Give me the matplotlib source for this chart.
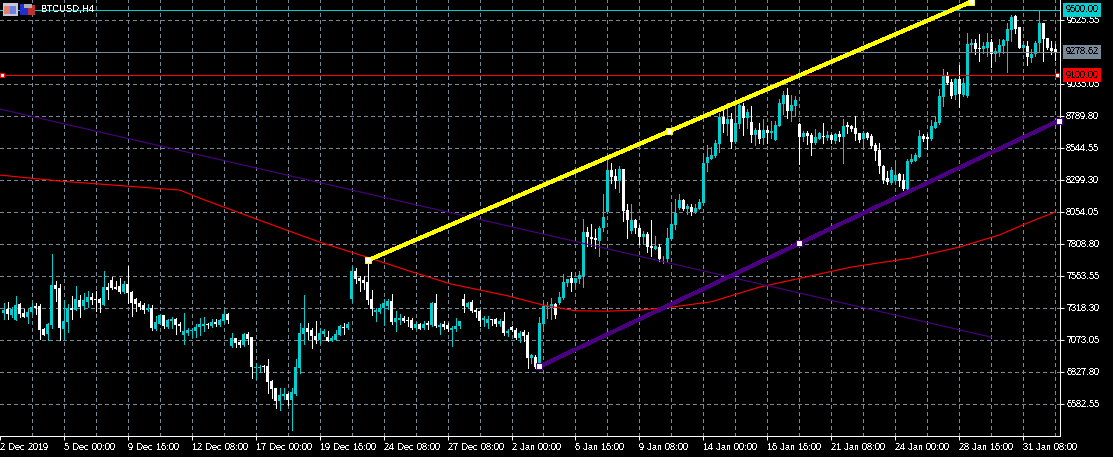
"""BTCUSD H4 candlestick chart in the style of a MetaTrader window."""

import numpy as np
import matplotlib
matplotlib.use("Agg")
import matplotlib.pyplot as plt
from matplotlib.patches import Rectangle
from matplotlib.transforms import Affine2D

# Candles, one value per 4h bar
opens = [
    7275, 7311, 7265, 7224, 7344, 7275, 7249, 7285, 7328, 7328,
    7155, 7114, 7183, 7489, 7466, 7157, 7208, 7313, 7298, 7380,
    7331, 7362, 7397, 7387, 7387, 7341, 7474, 7528, 7479, 7482,
    7438, 7497, 7438, 7387, 7351, 7336, 7298, 7313, 7157, 7196,
    7260, 7170, 7216, 7229, 7193, 7106, 7124, 7137, 7137, 7168,
    7175, 7196, 7178, 7206, 7183, 7213, 7270, 7022, 7083, 7053,
    7030, 7114, 7091, 6856, 6856, 6869, 6869, 6754, 6700, 6601,
    6639, 6654, 6608, 6654, 6856, 7116, 7162, 7147, 7104, 7068,
    7116, 7091, 7065, 7073, 7111, 7170, 7160, 7382, 7602, 7543,
    7528, 7515, 7382, 7285, 7288, 7313, 7331, 7367, 7208, 7221,
    7239, 7221, 7221, 7165, 7190, 7165, 7203, 7183, 7351, 7170,
    7190, 7183, 7147, 7157, 7178, 7382, 7326, 7362, 7298, 7290,
    7221, 7203, 7229, 7229, 7190, 7213, 7121, 7167, 7150, 7088,
    7132, 7106, 6932, 6943, 6871, 7193, 7326, 7318, 7344, 7351,
    7395, 7510, 7543, 7505, 7536, 7561, 7901, 7863, 7850, 7832,
    7926, 8052, 8371, 8328, 8289, 8379, 8064, 7906, 7990, 7932,
    7860, 7880, 7788, 7771, 7786, 7697, 7694, 7842, 7949, 8085,
    8141, 8072, 8092, 8054, 8077, 8118, 8424, 8460, 8481, 8570,
    8777, 8723, 8762, 8585, 8723, 8864, 8769, 8739, 8639, 8677,
    8616, 8677, 8654, 8601, 8711, 8877, 8946, 8823, 8864, 8723,
    8624, 8654, 8642, 8578, 8614, 8631, 8621, 8642, 8598, 8649,
    8624, 8716, 8711, 8693, 8654, 8608, 8654, 8631, 8562, 8524,
    8407, 8310, 8276, 8286, 8340, 8297, 8225, 8432, 8445, 8470,
    8631, 8626, 8608, 8698, 8731, 8935, 9099, 9048, 8946, 9068,
    8948, 8938, 9329, 9347, 9311, 9298, 9311, 9354, 9260, 9280,
    9324, 9365, 9446, 9554, 9467, 9311, 9324, 9234, 9260, 9344,
    9500, 9382, 9311, 9298,
]
highs = [
    7357, 7362, 7326, 7405, 7357, 7306, 7311, 7351, 7357, 7344,
    7165, 7203, 7727, 7523, 7497, 7377, 7344, 7408, 7482, 7413,
    7433, 7446, 7433, 7446, 7395, 7597, 7510, 7556, 7523, 7548,
    7523, 7635, 7446, 7395, 7369, 7357, 7344, 7336, 7254, 7267,
    7260, 7229, 7249, 7242, 7208, 7280, 7165, 7162, 7196, 7242,
    7249, 7198, 7229, 7234, 7229, 7298, 7275, 7127, 7086, 7070,
    7122, 7132, 7096, 6897, 6879, 6876, 6928, 6764, 6703, 6705,
    6705, 6667, 6705, 6923, 7203, 7418, 7198, 7162, 7219, 7162,
    7152, 7139, 7101, 7147, 7183, 7198, 7211, 7633, 7625, 7561,
    7561, 7650, 7451, 7313, 7344, 7387, 7382, 7420, 7293, 7267,
    7254, 7249, 7236, 7208, 7203, 7216, 7216, 7362, 7420, 7203,
    7216, 7203, 7178, 7242, 7216, 7420, 7362, 7377, 7318, 7300,
    7254, 7254, 7234, 7242, 7229, 7288, 7152, 7178, 7165, 7139,
    7144, 7132, 6960, 6953, 7247, 7344, 7362, 7395, 7356, 7438,
    7574, 7541, 7594, 7548, 7599, 7995, 7939, 7957, 7924, 7944,
    8187, 8450, 8425, 8379, 8404, 8379, 8110, 8110, 8001, 7949,
    7906, 7898, 7988, 7868, 7804, 7714, 7932, 8123, 8149, 8187,
    8149, 8110, 8110, 8110, 8154, 8493, 8562, 8552, 8601, 8813,
    8859, 8889, 8813, 8851, 8889, 8889, 8838, 8861, 8698, 8736,
    8762, 8711, 8749, 8749, 8915, 8979, 9004, 8946, 8941, 8736,
    8672, 8672, 8660, 8685, 8665, 8731, 8672, 8647, 8660, 8672,
    8762, 8741, 8716, 8787, 8660, 8672, 8665, 8647, 8583, 8583,
    8409, 8366, 8399, 8442, 8348, 8340, 8460, 8499, 8506, 8677,
    8652, 8647, 8757, 8787, 8992, 9145, 9124, 9068, 9081, 9178,
    9081, 9421, 9375, 9380, 9416, 9354, 9426, 9375, 9311, 9380,
    9375, 9503, 9559, 9561, 9467, 9362, 9362, 9298, 9362, 9600,
    9502, 9388, 9362, 9336,
]
lows = [
    7234, 7234, 7244, 7224, 7249, 7244, 7198, 7275, 7270, 7076,
    7106, 7073, 7165, 7369, 7070, 7076, 7132, 7234, 7298, 7244,
    7306, 7321, 7346, 7290, 7282, 7336, 7382, 7459, 7459, 7428,
    7433, 7357, 7254, 7293, 7306, 7275, 7290, 7145, 7147, 7190,
    7162, 7162, 7165, 7114, 7142, 7040, 7106, 7096, 7096, 7106,
    7139, 7162, 7173, 7178, 7178, 7203, 7198, 7019, 7017, 7019,
    7025, 7037, 6779, 6774, 6825, 6825, 6667, 6629, 6547, 6534,
    6616, 6573, 6378, 6649, 6815, 7037, 7076, 7009, 7045, 7050,
    7101, 7060, 7060, 7070, 7109, 7114, 7152, 7362, 7510, 7444,
    7464, 7344, 7259, 7216, 7280, 7185, 7310, 7190, 7139, 7190,
    7208, 7178, 7152, 7152, 7152, 7152, 7152, 7178, 7173, 7114,
    7152, 7139, 7024, 7139, 7165, 7285, 7318, 7288, 7247, 7178,
    7178, 7165, 7185, 7178, 7178, 7109, 7101, 7139, 7075, 7055,
    7063, 6858, 6896, 6858, 6858, 7139, 7242, 7229, 7242, 7344,
    7382, 7484, 7446, 7484, 7510, 7477, 7791, 7791, 7778, 7714,
    7906, 8047, 8276, 8238, 8205, 7983, 7852, 7893, 7893, 7809,
    7804, 7745, 7714, 7766, 7676, 7663, 7668, 7837, 7919, 8077,
    8067, 8039, 8026, 8046, 8072, 8115, 8366, 8455, 8476, 8511,
    8665, 8642, 8542, 8583, 8698, 8642, 8698, 8585, 8568, 8578,
    8570, 8583, 8621, 8601, 8708, 8800, 8769, 8749, 8787, 8417,
    8596, 8570, 8486, 8570, 8608, 8578, 8601, 8578, 8578, 8596,
    8424, 8654, 8672, 8601, 8588, 8532, 8608, 8539, 8450, 8353,
    8276, 8269, 8263, 8281, 8251, 8220, 8210, 8424, 8440, 8470,
    8593, 8532, 8603, 8695, 8729, 8864, 9030, 8928, 8915, 8859,
    8941, 8935, 9285, 9260, 9206, 9273, 9247, 9163, 9209, 9247,
    9273, 9124, 9362, 9426, 9306, 9285, 9176, 9201, 9247, 9278,
    9209, 9298, 9260, 9216,
]
closes = [
    7303, 7272, 7306, 7341, 7267, 7249, 7288, 7326, 7318, 7147,
    7111, 7190, 7489, 7464, 7165, 7213, 7313, 7300, 7382, 7326,
    7374, 7397, 7374, 7377, 7351, 7474, 7454, 7466, 7464, 7436,
    7497, 7428, 7351, 7346, 7323, 7298, 7313, 7160, 7211, 7260,
    7175, 7224, 7229, 7183, 7178, 7137, 7145, 7150, 7173, 7190,
    7190, 7183, 7206, 7193, 7224, 7267, 7226, 7083, 7045, 7032,
    7114, 7076, 6863, 6866, 6866, 6863, 6749, 6693, 6603, 6647,
    6654, 6608, 6670, 6861, 7122, 7160, 7134, 7101, 7068, 7122,
    7139, 7065, 7088, 7119, 7175, 7165, 7190, 7602, 7541, 7523,
    7505, 7374, 7305, 7298, 7318, 7351, 7367, 7206, 7236, 7239,
    7216, 7216, 7165, 7190, 7157, 7190, 7188, 7351, 7178, 7188,
    7173, 7152, 7165, 7180, 7213, 7328, 7356, 7293, 7282, 7216,
    7239, 7229, 7224, 7190, 7216, 7121, 7139, 7147, 7088, 7127,
    7098, 6932, 6953, 6866, 7198, 7331, 7331, 7344, 7259, 7403,
    7518, 7536, 7505, 7543, 7566, 7901, 7860, 7842, 7837, 7932,
    8016, 8371, 8317, 8289, 8379, 8059, 7990, 7988, 7926, 7860,
    7880, 7783, 7778, 7788, 7694, 7702, 7850, 7957, 8041, 8141,
    8072, 8098, 8054, 8085, 8128, 8430, 8470, 8486, 8578, 8777,
    8726, 8762, 8585, 8731, 8869, 8769, 8818, 8642, 8677, 8614,
    8677, 8654, 8670, 8718, 8884, 8946, 8826, 8869, 8907, 8624,
    8654, 8634, 8578, 8624, 8660, 8626, 8639, 8601, 8647, 8624,
    8708, 8703, 8685, 8647, 8601, 8660, 8621, 8557, 8519, 8404,
    8299, 8279, 8371, 8332, 8289, 8225, 8440, 8458, 8486, 8631,
    8614, 8614, 8711, 8739, 8938, 9099, 9043, 8941, 9068, 8953,
    9043, 9336, 9349, 9303, 9298, 9321, 9354, 9260, 9285, 9329,
    9370, 9451, 9548, 9457, 9311, 9329, 9242, 9260, 9344, 9500,
    9375, 9306, 9288, 9279,
]

# Moving average, read at a few bars
ma_bars = [-1, 14, 44, 49, 70, 79, 90, 102, 112, 126, 135, 143, 151, 159,
           167, 177, 189, 212, 227, 239, 249, 256, 263]
ma_prices = [8334, 8288, 8219, 8157, 7920, 7820, 7713, 7593, 7498, 7409, 7337,
             7294, 7291, 7299, 7322, 7363, 7475, 7629, 7698, 7782, 7874, 7966,
             8050]

# Trendlines: bar index and price of the anchors
yellow_bars = [91, 166.5, 242]
yellow_prices = [7680, 8671, 9662]
channel_bars = [134, 199, 264]
channel_prices = [6867, 7810, 8752]
thin_bars = [-1, 247]
thin_prices = [8840, 7092]

# Horizontal levels
levels = [9600.00, 9278.62, 9100.00]
level_colors = ["#00CED1", "#778899", "#FF0000"]
level_labels = ["9600.00", "9278.62", "9100.00"]

# Axis labels
price_ticks = [9525.55, 9035.05, 8789.80, 8544.55, 8299.30, 8054.05, 7808.80,
               7563.55, 7318.30, 7073.05, 6827.80, 6582.55]
price_grid = [9525.55, 9280.30, 9035.05, 8789.80, 8544.55, 8299.30, 8054.05,
              7808.80, 7563.55, 7318.30, 7073.05, 6827.80, 6582.55]
date_bars = [-1, 15, 31, 47, 63, 79, 95, 111, 127, 143, 159, 175, 191, 207,
             223, 239, 255]
date_labels = ["2 Dec 2019", "5 Dec 00:00", "9 Dec 16:00", "12 Dec 08:00",
               "17 Dec 00:00", "19 Dec 16:00", "24 Dec 08:00", "27 Dec 08:00",
               "2 Jan 00:00", "6 Jan 16:00", "9 Jan 08:00", "14 Jan 00:00",
               "16 Jan 16:00", "21 Jan 08:00", "24 Jan 00:00", "28 Jan 16:00",
               "31 Jan 08:00"]

WIDTH, HEIGHT = 1113, 457
RIGHT_EDGE, BOTTOM_EDGE = 1060, 436
PX = 0.72  # one pixel in points at dpi 100
FONT_SIZE = 6.5
TEAL = "#00CED1"
GRID = "#778899"
INDIGO = "#4B0082"

plt.rcParams["font.family"] = ["Liberation Sans", "DejaVu Sans"]
plt.rcParams["lines.antialiased"] = False
plt.rcParams["text.antialiased"] = False
plt.rcParams["text.hinting"] = "native"
plt.rcParams["text.hinting_factor"] = 1

fig = plt.figure(figsize=(WIDTH / 100, HEIGHT / 100), dpi=100, facecolor="black")
ax = fig.add_axes([0, 1 - BOTTOM_EDGE / HEIGHT, RIGHT_EDGE / WIDTH, BOTTOM_EDGE / HEIGHT])
ax.set_facecolor("black")

# one bar is 4 px, 32 px of height are 245.25 in price
per_px = 245.25 / 32
top = 9525.55 + 19.6 * per_px
ax.set_ylim(top - BOTTOM_EDGE * per_px, top)
ax.set_xlim(-3 / 4, (RIGHT_EDGE - 3) / 4)

for name in ("top", "left"):
    ax.spines[name].set_visible(False)
for name in ("right", "bottom"):
    ax.spines[name].set_color("white")
    ax.spines[name].set_linewidth(PX)

# Grid
dash = (0, (4, 3))
for p in price_grid:
    ax.axhline(p, color=GRID, lw=PX, ls=dash, zorder=1)
for b in np.arange(7, 264, 8):
    ax.axvline(b, color=GRID, lw=PX, ls=dash, zorder=1)

# Candles
o, h, l, c = map(np.array, (opens, highs, lows, closes))
bars = np.arange(len(o))
colors = np.where(c >= o, TEAL, "white")
ax.vlines(bars, l, h, colors=colors, lw=PX, antialiased=False, zorder=2)
ax.bar(bars, np.abs(c - o), bottom=np.minimum(o, c), width=0.75, color=colors,
       linewidth=0, antialiased=False, zorder=3)

# Indicator and trendlines
ax.plot(ma_bars, ma_prices, color="#FF0000", lw=1.15 * PX, antialiased=True, zorder=4)
ax.plot(thin_bars, thin_prices, color=INDIGO, lw=1.15 * PX, antialiased=True, zorder=4)
ax.plot(yellow_bars, yellow_prices, color="#FFFF00", lw=3 * PX, zorder=5)
ax.plot(channel_bars, channel_prices, color=INDIGO, lw=3 * PX, zorder=5)
ax.plot(yellow_bars, yellow_prices, ls="none", marker="s", ms=6.5 * PX, mfc="white",
        mec="#FFFF00", mew=PX, zorder=6, clip_on=False)
ax.plot(channel_bars, channel_prices, ls="none", marker="s", ms=6.5 * PX, mfc="white",
        mec=INDIGO, mew=PX, zorder=6, clip_on=False)

# Horizontal levels with their price boxes
yaxis_tf = ax.get_yaxis_transform()
for level, color, label in zip(levels, level_colors, level_labels):
    ax.axhline(level, color=color, lw=PX, zorder=4)
    ax.text((RIGHT_EDGE + 5.5) / RIGHT_EDGE, level, label, transform=yaxis_tf, color="black",
            fontsize=FONT_SIZE, ha="left", va="center", clip_on=False, zorder=8,
            bbox=dict(facecolor=color, edgecolor="none", pad=1.6))
ax.plot([-0.5, 263.5], [levels[2], levels[2]], ls="none", marker="s", ms=3.5 * PX, mfc="white",
        mec="#FF0000", mew=PX, zorder=6, clip_on=False)

# Axes ticks
ax.set_yticks(price_ticks)
ax.set_yticklabels([f"{p:.2f}" for p in price_ticks])
ax.yaxis.tick_right()
ax.tick_params(axis="y", length=4 * PX, width=PX, color="white", labelcolor="white",
               labelsize=FONT_SIZE, pad=1.5)
ax.set_xticks(date_bars)
ax.set_xticklabels(date_labels, ha="left")
ax.tick_params(axis="x", length=4 * PX, width=PX, color="white", labelcolor="white",
               labelsize=FONT_SIZE, pad=2.5)

# Window title and the two small icons, placed in screen pixels
px = Affine2D().scale(1 / WIDTH, -1 / HEIGHT).translate(0, 1) + fig.transFigure
icon_parts = [
    (3, 3, 15, 13, "#C8C8D8"), (4, 6, 6, 8, "#E08070"), (10, 6, 6, 8, "#7080E0"),
    (20, 4, 8, 11, "#2030D0"), (28, 5, 7, 10, "#C03030"), (24, 4, 8, 4, "#B0B0B0"),
]
for x0, y0, w, hh, color in icon_parts:
    fig.add_artist(Rectangle((x0, y0), w, hh, transform=px, facecolor=color, edgecolor="none"))
fig.text(41, 9.5, "BTCUSD,H4", transform=px, color="white", fontsize=FONT_SIZE, va="center")

plt.savefig("out.png", dpi=100, facecolor="black")
